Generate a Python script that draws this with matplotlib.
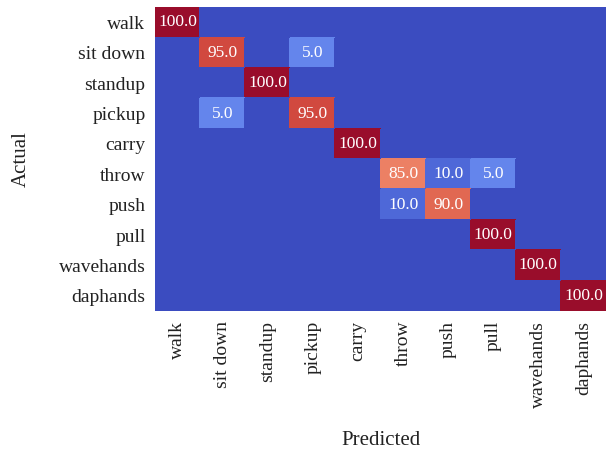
import numpy as np
import matplotlib
matplotlib.use('Agg')
import matplotlib.pyplot as plt
from matplotlib.colors import LinearSegmentedColormap

labels = ['walk', 'sit down', 'standup', 'pickup', 'carry',
          'throw', 'push', 'pull', 'wavehands', 'daphands']

# percentages shown in the cells (rows = actual, cols = predicted)
values = np.array([
    [100, 0, 0, 0, 0, 0, 0, 0, 0, 0],
    [0, 95, 0, 5, 0, 0, 0, 0, 0, 0],
    [0, 0, 100, 0, 0, 0, 0, 0, 0, 0],
    [0, 5, 0, 95, 0, 0, 0, 0, 0, 0],
    [0, 0, 0, 0, 100, 0, 0, 0, 0, 0],
    [0, 0, 0, 0, 0, 85, 10, 5, 0, 0],
    [0, 0, 0, 0, 0, 10, 90, 0, 0, 0],
    [0, 0, 0, 0, 0, 0, 0, 100, 0, 0],
    [0, 0, 0, 0, 0, 0, 0, 0, 100, 0],
    [0, 0, 0, 0, 0, 0, 0, 0, 0, 100],
])

# colour intensity as it appears in the picture (not monotonic with the text)
shades = np.array([
    [100, 0, 0, 0, 0, 0, 0, 0, 0, 0],
    [0, 94, 0, 14, 0, 0, 0, 0, 0, 0],
    [0, 0, 100, 0, 0, 0, 0, 0, 0, 0],
    [0, 14, 0, 94, 0, 0, 0, 0, 0, 0],
    [0, 0, 0, 0, 100, 0, 0, 0, 0, 0],
    [0, 0, 0, 0, 0, 83, 7, 14, 0, 0],
    [0, 0, 0, 0, 0, 7, 88, 0, 0, 0],
    [0, 0, 0, 0, 0, 0, 0, 100, 0, 0],
    [0, 0, 0, 0, 0, 0, 0, 0, 100, 0],
    [0, 0, 0, 0, 0, 0, 0, 0, 0, 100],
])

plt.rcParams['font.family'] = ['Liberation Serif', 'DejaVu Serif']

# coolwarm, but ending in a deeper crimson like the reference
base = plt.get_cmap('coolwarm')
stops = list(base(np.linspace(0, 0.94, 30)))
stops.append((0.60, 0.05, 0.17, 1.0))
cmap = LinearSegmentedColormap.from_list('cw_dark', stops)

fig = plt.figure(figsize=(6.06, 4.5), dpi=100)
ax = fig.add_axes([0.256, 0.309, 0.744, 0.675])

ax.pcolormesh(shades, cmap=cmap, vmin=0, vmax=100,
              edgecolors='face', linewidth=0.2)
ax.set_xlim(0, len(labels))
ax.set_ylim(len(labels), 0)

for i in range(len(labels)):
    for j in range(len(labels)):
        if values[i, j] > 0:
            ax.text(j + 0.5, i + 0.5, '%.1f' % values[i, j], ha='center', va='center',
                    color='white', fontsize=12.5)

ax.set_xticks(np.arange(len(labels)) + 0.5)
ax.set_yticks(np.arange(len(labels)) + 0.5)
ax.set_xticklabels(labels, rotation=90, fontsize=14, color='#222222')
ax.set_yticklabels(labels, fontsize=14, color='#222222')
ax.tick_params(length=0, pad=7)
for s in ax.spines.values():
    s.set_visible(False)

ax.set_xlabel('Predicted', fontsize=15, color='#222222', labelpad=17)
ax.set_ylabel('Actual', fontsize=15, color='#222222', labelpad=20)

fig.savefig('out.png', dpi=100)
